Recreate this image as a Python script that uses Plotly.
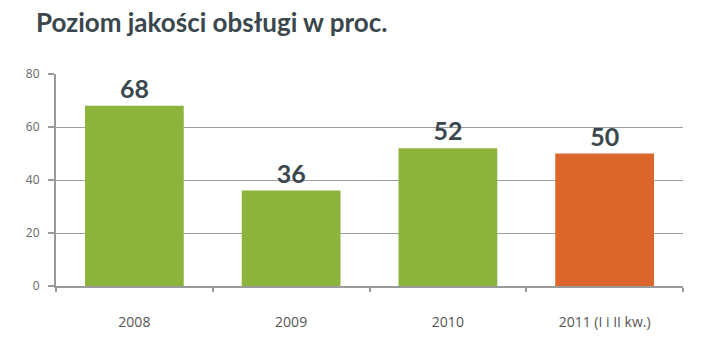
import plotly.graph_objects as go

categories = ["2008", "2009", "2010", "2011 (I i II kw.)"]
values = [68, 36, 52, 50]
bar_colors = ["#8cb43a", "#8cb43a", "#8cb43a", "#dc652b"]
y_ticks = [0, 20, 40, 60, 80]

fig = go.Figure()
fig.add_trace(go.Bar(
    x=categories, y=values,
    marker=dict(color=bar_colors, line=dict(width=0)),
    text=["<b>%d</b>" % v for v in values],
    textposition="outside",
    textfont=dict(family="Lato", size=25, color="#3a474d"),
    cliponaxis=False,
    width=0.63,
))

fig.update_layout(
    width=720, height=346,
    margin=dict(l=56, r=37, t=74, b=60),
    paper_bgcolor="white", plot_bgcolor="white",
    showlegend=False,
    title=dict(text="<b>Poziom jakości obsługi w proc.</b>", x=36/720, xanchor="left",
               y=1 - 23/346, yanchor="middle",
               font=dict(family="Lato", size=26, color="#3a474d")),
    uniformtext=dict(mode=False),
)
fig.update_xaxes(
    type="category", tickson="boundaries", ticks="outside", ticklen=4, tickwidth=1.5,
    tickcolor="#9a9a9a", showline=True, linecolor="#9a9a9a", linewidth=2,
    tickfont=dict(family="Open Sans", size=14, color="#555555"),
    showgrid=False, range=[-0.5, 3.5], ticklabelstandoff=22,
)
fig.update_yaxes(
    range=[0, 80], tickvals=y_ticks, ticks="outside", ticklen=6, tickwidth=1.5,
    tickcolor="#9a9a9a", showline=True, linecolor="#9a9a9a", linewidth=2,
    showgrid=True, gridcolor="#a0a0a0", gridwidth=1.2,
    tickfont=dict(family="Open Sans", size=12, color="#666666"),
    zeroline=False, ticklabelstandoff=6,
)

fig.write_html("out.html")
